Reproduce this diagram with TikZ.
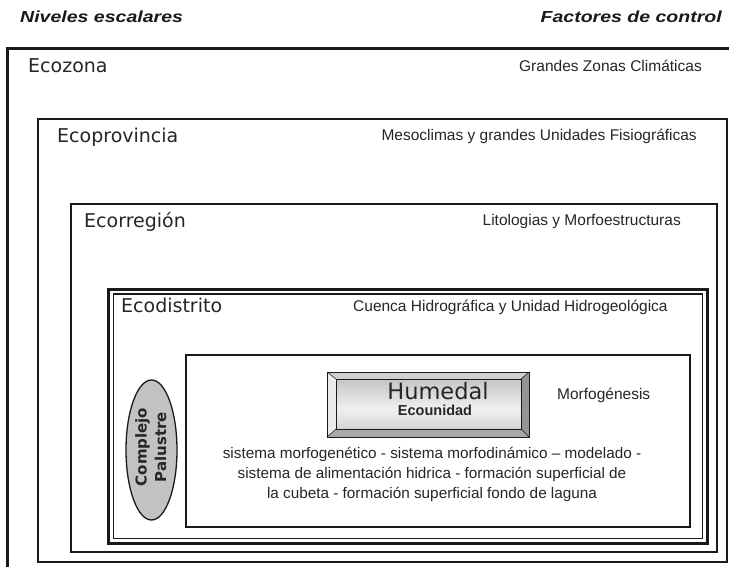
\documentclass[tikz,border=0pt]{standalone}
\usepackage{fontspec}
\setmainfont{Liberation Sans}
\newfontfamily\dejavu{DejaVu Sans}
\newfontfamily\hdrfont[FakeStretch=1.22]{Liberation Sans}
\usetikzlibrary{shapes.geometric}
\definecolor{ink}{HTML}{1A1A1A}
\definecolor{txt}{HTML}{262626}
\pgfdeclareverticalshading{humshade}{100bp}{
  color(0bp)=(black!34);
  color(30bp)=(black!14);
  color(45bp)=(black!6);
  color(70bp)=(black!20);
  color(100bp)=(black!36)}
\tikzset{
  lvl/.style={anchor=base west, inner sep=0pt, text=txt, font=\dejavu\fontsize{19}{22}\selectfont},
  fac/.style={inner sep=0pt, text=txt, font=\fontsize{15.5}{18}\selectfont},
  hdr/.style={inner sep=0pt, text=ink, font=\hdrfont\bfseries\itshape\fontsize{16}{18}\selectfont},
  para/.style={anchor=base, inner sep=0pt, text=txt, font=\fontsize{15.3}{18}\selectfont},
  boxline/.style={draw=ink},
  cptext/.style={rotate=90, inner sep=0pt, text=txt, font=\dejavu\bfseries\fontsize{15}{17}\selectfont},
}
\begin{document}
\begin{tikzpicture}[x=1pt,y=-1pt]
\useasboundingbox (0,0) rectangle (729,566);
\fill[white] (0,0) rectangle (729,566);
% headers
\node[hdr, anchor=base west] (hl) at (20,22) {Niveles escalares};
\node[hdr, anchor=base east] (hr) at (722,22) {Factores de control};
% nested boxes
\draw[boxline, line width=3pt] (7,48) rectangle (740,580);
\draw[boxline, line width=2.5pt] (38,119) rectangle (727,562);
\draw[boxline, line width=2.2pt] (71,204) rectangle (717,552);
\draw[boxline, line width=3pt] (108,289) rectangle (707,543);
\draw[boxline, line width=1.1pt] (113.5,294) rectangle (702.5,538.5);
\draw[boxline, line width=2pt] (186,355) rectangle (690,527);
% level labels
\node[lvl] (ezona) at (28,72) {Ecozona};
\node[lvl] (eprov) at (57,142) {Ecoprovincia};
\node[lvl] (ereg) at (84,227) {Ecorregión};
\node[lvl] (edist) at (121,312) {Ecodistrito};
% factor labels
\node[fac, anchor=base east] (f1) at (702,71) {Grandes Zonas Climáticas};
\node[fac, anchor=base east] (f2) at (697,140) {Mesoclimas y grandes Unidades Fisiográficas};
\node[fac, anchor=base east] (f3) at (681,225) {Litologias y Morfoestructuras};
\node[fac, anchor=base west] (f4) at (353,311) {Cuenca Hidrográfica y Unidad Hidrogeológica};
\node[fac, anchor=base west] (f5) at (557,399) {Morfogénesis};
% Humedal bevelled box
\coordinate (ho1) at (327,372); \coordinate (ho2) at (529,437);
\coordinate (hi1) at (336,379); \coordinate (hi2) at (521,429);
\fill[black!18] (327,372) -- (529,372) -- (521,379) -- (336,379) -- cycle;
\fill[black!8] (327,372) -- (336,379) -- (336,429) -- (327,437) -- cycle;
\fill[black!42] (529,372) -- (529,437) -- (521,429) -- (521,379) -- cycle;
\fill[black!34] (327,437) -- (529,437) -- (521,429) -- (336,429) -- cycle;
\shade[shading=humshade] (hi1) rectangle (hi2);
\draw[ink, line width=0.9pt] (ho1) rectangle (ho2);
\draw[ink, line width=0.6pt] (hi1) rectangle (hi2);
\draw[ink, line width=0.5pt] (ho1) -- (hi1) (529,372) -- (521,379) (327,437) -- (336,429) (ho2) -- (hi2);
\node[anchor=base, inner sep=0pt, text=txt, font=\dejavu\fontsize{22.5}{25}\selectfont] (hum) at (438,399) {Humedal};
\node[anchor=base, inner sep=0pt, text=txt, font=\bfseries\fontsize{14.5}{17}\selectfont] (ecu) at (435,415) {Ecounidad};
% paragraph
\node[para] (p1) at (432,458) {sistema morfogenético - sistema morfodinámico – modelado -};
\node[para] (p2) at (432,478) {sistema de alimentación hidrica - formación superficial de};
\node[para] (p3) at (432,498) {la cubeta - formación superficial fondo de laguna};
% Complejo Palustre ellipse
\node[ellipse, draw=ink, line width=1.3pt, fill=black!24, minimum width=51pt, minimum height=140pt, inner sep=0pt] (cp) at (151.5,450) {};
\node[cptext] (cp1) at (142.5,447) {Complejo};
\node[cptext] (cp2) at (160.5,447) {Palustre};
\end{tikzpicture}
\end{document}
